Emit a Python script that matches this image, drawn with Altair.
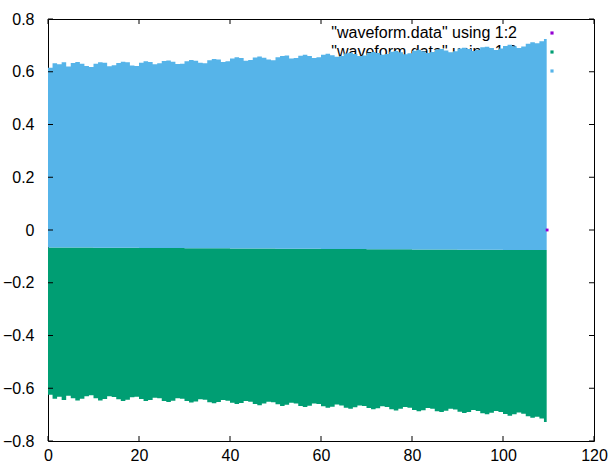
import altair as alt
import pandas as pd

# Sampled envelope of the waveform (time step 1 s)
top_env = [
    0.615, 0.632, 0.628, 0.636, 0.620, 0.633, 0.637, 0.630, 0.622, 0.618,
    0.630, 0.636, 0.634, 0.621, 0.625, 0.633, 0.638, 0.636, 0.624, 0.622,
    0.634, 0.640, 0.637, 0.628, 0.632, 0.641, 0.643, 0.638, 0.629, 0.630,
    0.640, 0.645, 0.642, 0.634, 0.632, 0.644, 0.648, 0.646, 0.637, 0.640,
    0.650, 0.655, 0.652, 0.642, 0.645, 0.654, 0.658, 0.653, 0.646, 0.644,
    0.655, 0.660, 0.662, 0.650, 0.652, 0.661, 0.664, 0.660, 0.652, 0.655,
    0.664, 0.668, 0.663, 0.657, 0.660, 0.669, 0.672, 0.667, 0.660, 0.662,
    0.672, 0.675, 0.671, 0.664, 0.667, 0.676, 0.679, 0.674, 0.666, 0.670,
    0.680, 0.683, 0.678, 0.671, 0.675, 0.684, 0.686, 0.681, 0.674, 0.678,
    0.688, 0.691, 0.686, 0.679, 0.683, 0.693, 0.695, 0.690, 0.682, 0.688,
    0.698, 0.702, 0.697, 0.690, 0.696, 0.706, 0.712, 0.708, 0.716, 0.724,
]
bot_env = [
    -0.625, -0.640, -0.632, -0.645, -0.628, -0.638, -0.646, -0.640, -0.630, -0.627,
    -0.638, -0.646, -0.641, -0.630, -0.633, -0.642, -0.648, -0.644, -0.634, -0.632,
    -0.641, -0.648, -0.645, -0.636, -0.638, -0.648, -0.652, -0.647, -0.638, -0.640,
    -0.648, -0.654, -0.650, -0.642, -0.644, -0.653, -0.657, -0.652, -0.645, -0.647,
    -0.655, -0.660, -0.656, -0.648, -0.651, -0.660, -0.664, -0.658, -0.651, -0.653,
    -0.661, -0.667, -0.663, -0.655, -0.658, -0.667, -0.671, -0.666, -0.658, -0.660,
    -0.668, -0.674, -0.670, -0.662, -0.665, -0.674, -0.678, -0.672, -0.665, -0.667,
    -0.675, -0.680, -0.676, -0.668, -0.671, -0.680, -0.684, -0.678, -0.671, -0.674,
    -0.682, -0.687, -0.683, -0.675, -0.678, -0.687, -0.690, -0.685, -0.678, -0.681,
    -0.689, -0.694, -0.690, -0.682, -0.686, -0.695, -0.699, -0.693, -0.686, -0.690,
    -0.698, -0.704, -0.699, -0.692, -0.697, -0.706, -0.712, -0.708, -0.715, -0.728,
]
# Crossover level between the two traces, one value per 10 s
mid_by_decade = [-0.066, -0.067, -0.068, -0.069, -0.070, -0.071,
                 -0.072, -0.073, -0.074, -0.075, -0.076]
T_END = 109.6

# Lone sample of the first column
col2_t = [109.7]
col2_v = [0.0]

legend_labels = ['"waveform.data" using 1:2',
                 '"waveform.data" using 1:3',
                 '"waveform.data" using 1:4']
legend_colors = ["#9400D3", "#009E73", "#56B4E9"]

x_ticks = [0, 20, 40, 60, 80, 100, 120]
y_ticks = [-0.8, -0.6, -0.4, -0.2, 0.0, 0.2, 0.4, 0.6, 0.8]

W, H = 546, 422
FONT = "Liberation Sans"
FS = 16

rows = []
for i in range(len(top_env)):
    rows.append({"t": i, "top": top_env[i], "bot": bot_env[i], "mid": mid_by_decade[i // 10]})
rows.append({"t": T_END, "top": top_env[-1], "bot": bot_env[-1], "mid": mid_by_decade[-1]})
wave = pd.DataFrame(rows)

xs = alt.Scale(domain=[0, 120], nice=False, zero=False)
ys = alt.Scale(domain=[-0.8, 0.8], nice=False, zero=False)

x_axis = alt.Axis(values=x_ticks, ticks=False, domain=False, grid=False, title=None,
                  labelFont=FONT, labelFontSize=FS, labelColor="#000000", labelPadding=6,
                  labelFlush=False)
y_axis = alt.Axis(values=y_ticks, ticks=False, domain=False, grid=False, title=None,
                  format=".1~f", labelFont=FONT, labelFontSize=FS, labelColor="#000000",
                  labelPadding=14)

base = alt.Chart(wave)

axes_layer = alt.Chart(pd.DataFrame({"t": [0], "v": [0]})).mark_point(opacity=0).encode(
    x=alt.X("t:Q", scale=xs, axis=x_axis),
    y=alt.Y("v:Q", scale=ys, axis=y_axis),
)

leg_df = pd.DataFrame({"label": legend_labels, "color": legend_colors,
                       "row": list(range(len(legend_labels)))})
leg_df["py"] = 14 + 19 * leg_df["row"]

legend_text = alt.Chart(leg_df).mark_text(
    align="right", baseline="middle", font=FONT, fontSize=FS, color="#000000", dx=469
).encode(x=alt.value(0), y=alt.Y("py:Q", scale=None), text="label:N")

green = base.mark_area(interpolate="step-after", color="#009E73", opacity=1).encode(
    x=alt.X("t:Q", scale=xs), y=alt.Y("mid:Q", scale=ys), y2="bot:Q")
blue = base.mark_area(interpolate="step-after", color="#56B4E9", opacity=1).encode(
    x=alt.X("t:Q", scale=xs), y=alt.Y("top:Q", scale=ys), y2="mid:Q")

purple = alt.Chart(pd.DataFrame({"t": col2_t, "v": col2_v})).mark_square(
    size=8, color="#9400D3", opacity=1).encode(
    x=alt.X("t:Q", scale=xs), y=alt.Y("v:Q", scale=ys))

legend_dots = alt.Chart(leg_df).mark_square(size=10, opacity=1).encode(
    x=alt.value(504), y=alt.Y("py:Q", scale=None),
    color=alt.Color("color:N", scale=None))

# Inward tick marks mirrored on all four sides
xt = pd.DataFrame({"t": x_ticks})
yt = pd.DataFrame({"v": y_ticks})
tick_style = dict(color="#000000", strokeWidth=1)
xb = alt.Chart(xt).mark_rule(**tick_style).encode(
    x=alt.X("t:Q", scale=xs), y=alt.value(H), y2=alt.value(H - 5))
xtp = alt.Chart(xt).mark_rule(**tick_style).encode(
    x=alt.X("t:Q", scale=xs), y=alt.value(0), y2=alt.value(5))
yl = alt.Chart(yt).mark_rule(**tick_style).encode(
    y=alt.Y("v:Q", scale=ys), x=alt.value(0), x2=alt.value(5))
yr = alt.Chart(yt).mark_rule(**tick_style).encode(
    y=alt.Y("v:Q", scale=ys), x=alt.value(W), x2=alt.value(W - 5))

chart = alt.layer(
    axes_layer, legend_text, green, blue, purple, legend_dots, xb, xtp, yl, yr
).properties(
    width=W, height=H,
    autosize=alt.AutoSizeParams(type="none"),
    padding={"left": 48, "top": 19, "right": 15, "bottom": 27},
    background="#ffffff",
).configure_view(stroke="#000000", strokeWidth=1)

chart.save("out.html", embed_options={"renderer": "svg", "actions": False})
